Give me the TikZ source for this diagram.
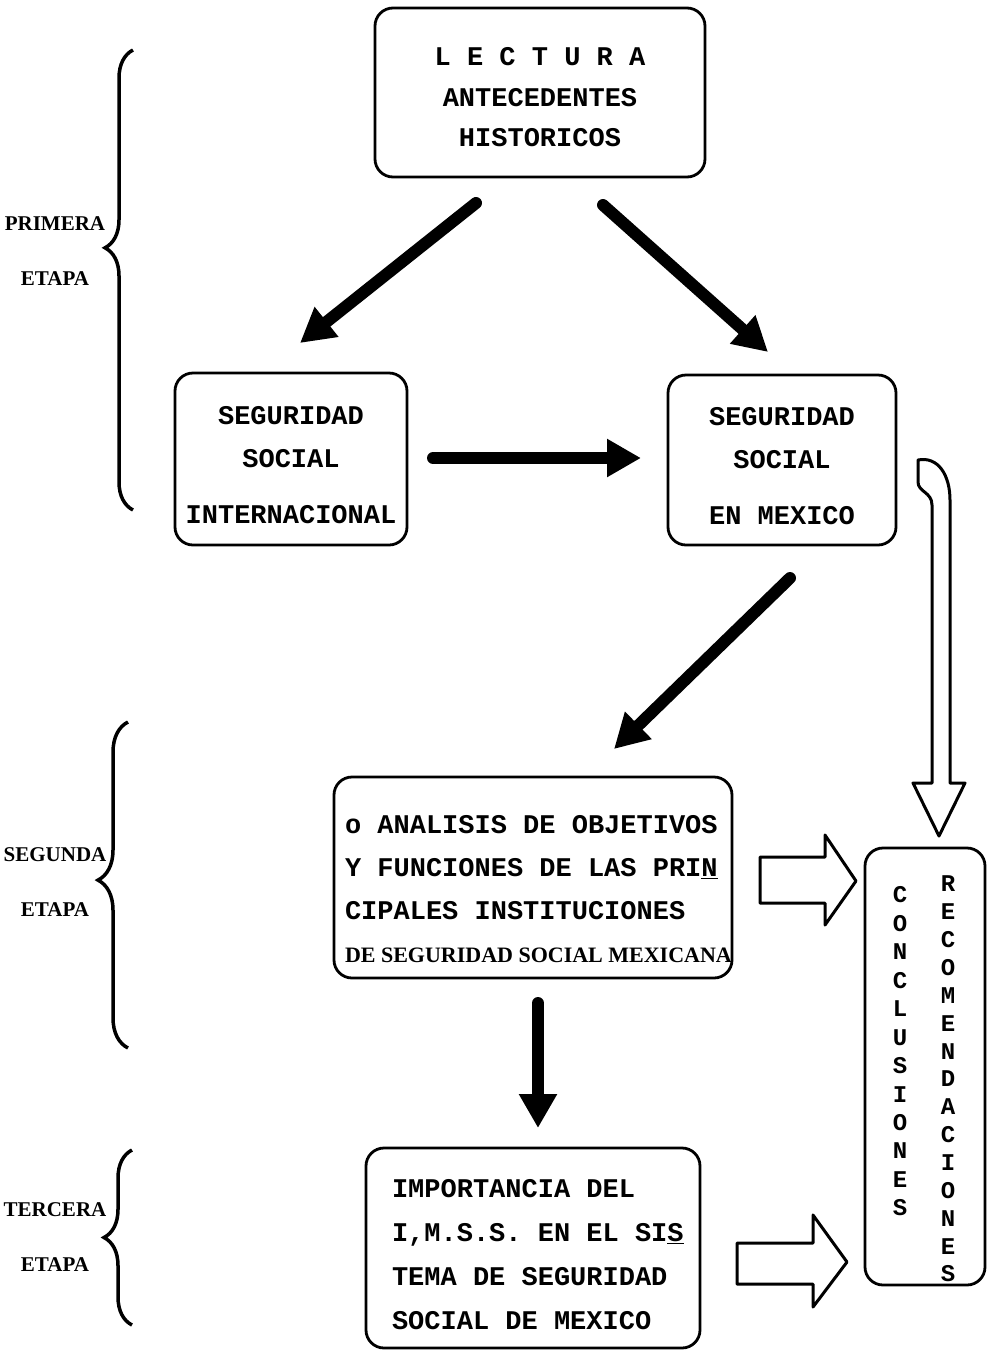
\documentclass[tikz,border=0pt]{standalone}
\usepackage{fontspec}
\usetikzlibrary{arrows.meta,decorations.pathreplacing}
\newfontfamily\typefont{Liberation Mono}[BoldFont={Liberation Mono Bold}]
\newfontfamily\stagefont{Liberation Serif Bold}
\newcommand{\lift}[1]{\spaceskip=0pt\xspaceskip=0pt\rule{0pt}{#1}}
\tikzset{
  box/.style={draw, line width=2.8pt, rounded corners=18pt, inner sep=0pt},
  typed/.style={font=\typefont\bfseries\fontsize{27}{43}\selectfont},
  bigarrow/.style={line width=12pt, line cap=round, -{Triangle[length=34pt,width=36pt]}},
  hollow/.style={draw, line width=3pt, line join=round},
  stage/.style={font=\stagefont\fontsize{21}{21}\selectfont},
  stagebrace/.style={draw, line width=3.5pt, decorate},
  vletter/.style={font=\typefont\bfseries\fontsize{24}{24}\selectfont, inner sep=0pt}
}
\begin{document}
\begin{tikzpicture}[x=1pt,y=-1pt]
  \useasboundingbox (0,0) rectangle (987,1350);

  \node[box, typed, align=center, minimum width=330pt, minimum height=169pt, font=\typefont\bfseries\fontsize{27}{40.5}\selectfont] (lectura) at (540,92.5) {\lift{27.5pt}L E C T U R A\\ANTECEDENTES\\HISTORICOS};
  \node[box, typed, align=center, minimum width=232pt, minimum height=172pt] (internacional) at (291,459) {\lift{30.5pt}SEGURIDAD\\SOCIAL\\[13pt]INTERNACIONAL};
  \node[box, typed, align=center, minimum width=228pt, minimum height=170pt] (mexico) at (782,460) {\lift{30.5pt}SEGURIDAD\\SOCIAL\\[13pt]EN MEXICO};
  \node[box, typed, align=left, text width=376pt, minimum width=398pt, minimum height=201pt] (analisis) at (533,877.5) {\lift{41.5pt}o ANALISIS DE OBJETIVOS\\Y FUNCIONES DE LAS PRI\underline{N}\\CIPALES INSTITUCIONES\\\mbox{\stagefont\fontsize{22}{43}\selectfont DE SEGURIDAD SOCIAL MEXICANA}};
  \node[box, typed, align=left, text width=282pt, minimum width=334pt, minimum height=200pt, font=\typefont\bfseries\fontsize{27}{44}\selectfont] (imss) at (533,1248) {\lift{30.5pt}IMPORTANCIA DEL\\\mbox{I,M.S.S. EN EL SI\underline{S}}\\TEMA DE SEGURIDAD\\SOCIAL DE MEXICO};
  \node[box, minimum width=120pt, minimum height=437pt] (conclusiones) at (925,1066.5) {};
  \foreach \l [count=\i] in {C,O,N,C,L,U,S,I,O,N,E,S}
    \node[vletter] (conc-\i) at (900,{895+28.45*(\i-1)}) {\l};
  \foreach \l [count=\i] in {R,E,C,O,M,E,N,D,A,C,I,O,N,E,S}
    \node[vletter] (reco-\i) at (948,{884+27.86*(\i-1)}) {\l};

  \coordinate (a1s) at (476,203);
  \coordinate (a1e) at (300,343);
  \coordinate (a2s) at (603,205);
  \coordinate (a2e) at (768,352);
  \coordinate (a3s) at (433,458);
  \coordinate (a3e) at (641,458);
  \coordinate (a4s) at (790,578);
  \coordinate (a4e) at (614,749);
  \coordinate (a5s) at (538,1003);
  \coordinate (a5e) at (538,1128);
  \draw[bigarrow] (a1s) -- (a1e);
  \draw[bigarrow] (a2s) -- (a2e);
  \draw[bigarrow] (a3s) -- (a3e);
  \draw[bigarrow] (a4s) -- (a4e);
  \draw[bigarrow] (a5s) -- (a5e);

  \draw[hollow] (760,857) -- (825,857) -- (825,835) -- (856,881) -- (825,925) -- (825,903) -- (760,903) -- cycle;
  \draw[hollow] (737,1243) -- (813,1243) -- (813,1215) -- (847,1262) -- (813,1307) -- (813,1284) -- (737,1284) -- cycle;
  \draw[hollow] (932,783) -- (932,505) .. controls (932,492) and (918,492) .. (918,482) -- (918,460)
    .. controls (938,456) and (950,475) .. (950,500) -- (950,783) -- (965,783) -- (939,836) -- (913,783) -- cycle;

  \draw[stagebrace, decoration={brace, amplitude=28pt, aspect=0.57}] (133,510) -- (133,50);
  \draw[stagebrace, decoration={brace, amplitude=30pt, aspect=0.515}] (128,1048) -- (128,722);
  \draw[stagebrace, decoration={brace, amplitude=28pt, aspect=0.5}] (132,1325) -- (132,1150);
  \node[stage] (primera) at (55,224) {PRIMERA};
  \node[stage] (etapa-1) at (55,279) {ETAPA};
  \node[stage] (segunda) at (55,855) {SEGUNDA};
  \node[stage] (etapa-2) at (55,910) {ETAPA};
  \node[stage] (tercera) at (55,1210) {TERCERA};
  \node[stage] (etapa-3) at (55,1265) {ETAPA};
\end{tikzpicture}
\end{document}
